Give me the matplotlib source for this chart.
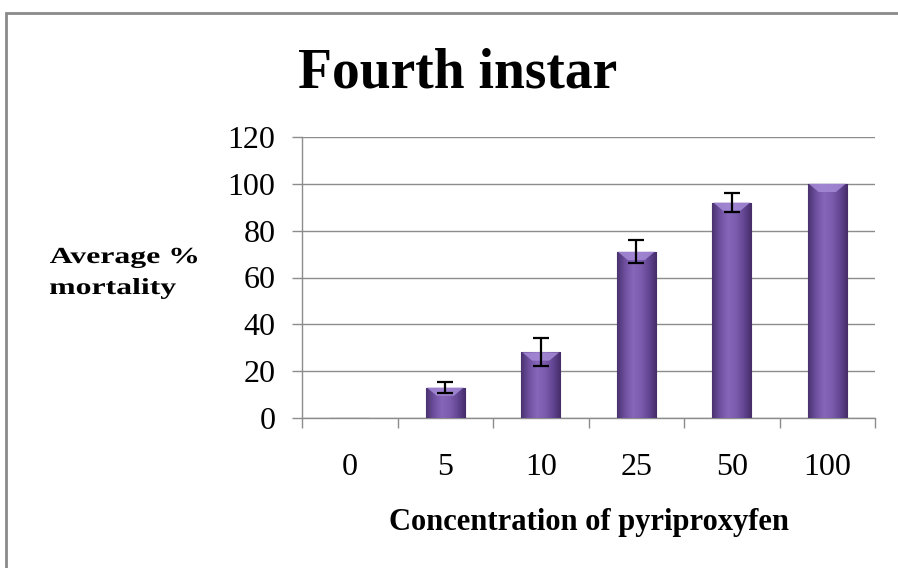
import matplotlib
matplotlib.use("Agg")
import matplotlib.pyplot as plt
from matplotlib.colors import LinearSegmentedColormap
from matplotlib.patches import Rectangle, Polygon, PathPatch
from matplotlib.textpath import TextPath
from matplotlib.font_manager import FontProperties
from matplotlib.transforms import Affine2D, IdentityTransform
import numpy as np

# data
concentrations = ["0", "5", "10", "25", "50", "100"]
mortality = [0, 13, 28, 71, 92, 100]
mortality_err = [0, 2.5, 6, 5, 4, 0]
y_ticks = [0, 20, 40, 60, 80, 100, 120]

plt.rcParams["font.family"] = ["Liberation Serif", "DejaVu Serif"]

W, H = 898, 568
fig = plt.figure(figsize=(W / 100, H / 100), dpi=100)
fig.patches.append(Rectangle((6 / W, -0.01), 1.0, 1 - 13 / H + 0.01, transform=fig.transFigure,
                             fill=False, edgecolor="#8a8a8a", linewidth=2))

ax = fig.add_axes([302 / W, 1 - 418 / H, 573 / W, 281 / H])
x = np.arange(len(concentrations))
bars = ax.bar(x, mortality, width=0.41, color="#7b58a8", edgecolor="#44305f", linewidth=0.8, zorder=3)

# bevel-like shading on each bar
cmap = LinearSegmentedColormap.from_list("bev", ["#4a3370", "#6f50a0", "#8566b8", "#7c5cae", "#634694", "#452d68"])
grad = np.linspace(0, 1, 64).reshape(1, -1)
for b in bars:
    h = b.get_height()
    if h <= 0:
        continue
    x0, bw = b.get_x(), b.get_width()
    im = ax.imshow(grad, cmap=cmap, aspect="auto", zorder=3.5, extent=(x0, x0 + bw, 0, h))
    im.set_clip_path(b)
    top = Polygon([(x0 + 0.03 * bw, h), (x0 + 0.97 * bw, h), (x0 + 0.72 * bw, h - 3.5), (x0 + 0.28 * bw, h - 3.5)],
                  closed=True, facecolor="#a58ad6", edgecolor="none", alpha=0.85, zorder=3.6)
    ax.add_patch(top)

ax.errorbar(x[1:5], mortality[1:5], yerr=mortality_err[1:5], fmt="none", ecolor="black",
            elinewidth=1.6, capsize=5.5, capthick=1.6, zorder=5)

ax.set_xlim(-0.5, len(concentrations) - 0.5)
ax.set_ylim(0, 120)
ax.set_yticks(y_ticks)
ax.set_yticklabels([str(t) for t in y_ticks], fontsize=23)
ax.set_xticks(x)
ax.set_xticklabels(concentrations, fontsize=23)
ax.set_xticks(np.arange(-0.5, len(concentrations)), minor=True)
ax.tick_params(axis="x", which="major", length=0, pad=25)
ax.tick_params(axis="x", which="minor", length=7, color="#8c8c8c", width=1)
ax.tick_params(axis="y", length=7, color="#8c8c8c", width=1, pad=12)
ax.yaxis.grid(True, color="#8c8c8c", linewidth=1, zorder=0)
ax.set_axisbelow(True)
for side in ["top", "right"]:
    ax.spines[side].set_visible(False)
for side in ["left", "bottom"]:
    ax.spines[side].set_color("#8c8c8c")
    ax.spines[side].set_linewidth(1)

fig.text(458 / W, 1 - 87 / H, "Fourth instar", fontsize=40, fontweight="bold", ha="center", va="baseline")
fig.text(589 / W, 1 - 530 / H, "Concentration of pyriproxyfen", fontsize=22, fontweight="bold",
         ha="center", va="baseline")

# the y label in the reference is stretched wide, so draw it as a scaled text path
bold = FontProperties(family="Liberation Serif", weight="bold")
ylabel_lines = ["Average %", "mortality"]
ylabel_baselines = [263, 294]
ref = TextPath((0, 0), ylabel_lines[0], size=23, prop=bold)
ext = ref.get_extents()
sx = 147 / ext.width
for line, base in zip(ylabel_lines, ylabel_baselines):
    tp = TextPath((0, 0), line, size=23, prop=bold)
    e = tp.get_extents()
    tr = Affine2D().translate(-e.x0, 0).scale(sx, 1).translate(50, H - base)
    fig.patches.append(PathPatch(tr.transform_path(tp), transform=IdentityTransform(),
                                 facecolor="black", edgecolor="none"))

fig.savefig("out.png", dpi=100)
